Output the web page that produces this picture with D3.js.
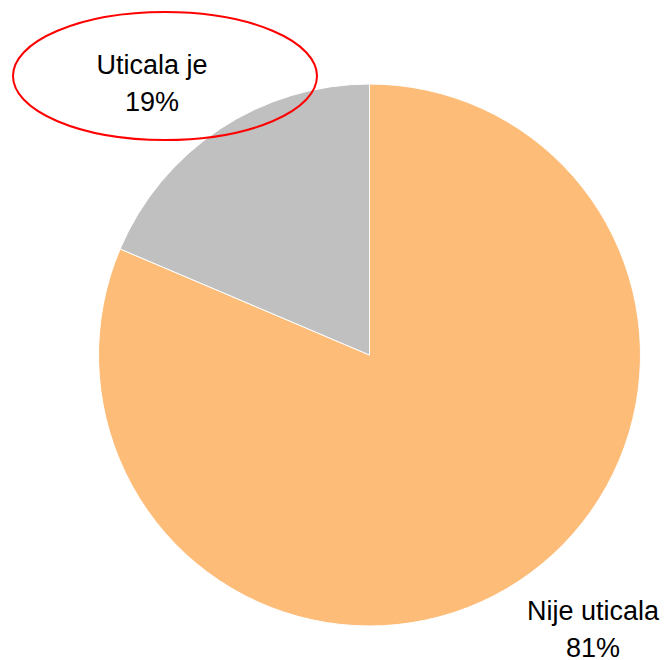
<!DOCTYPE html>
<html>
<head>
<meta charset="utf-8">
<script src="https://cdn.jsdelivr.net/npm/d3@7"></script>
<style>
  html, body { margin: 0; padding: 0; background: #fff; }
  svg { display: block; font-family: "Liberation Sans", Arial, sans-serif; }
</style>
</head>
<body>
<div id="chart"></div>
<script>
// data
const categories = ['Nije uticala', 'Uticala je']
const values = [81.4, 18.6]
const slice_colors = ['#FDBD79', '#C0C0C0']

const width = 665
const height = 660
const cx = 369.5
const cy = 355
const radius = 271
const font_size = 27

const svg = d3.select('#chart')
  .append('svg')
  .attr('width', width)
  .attr('height', height)

const color = d3.scaleOrdinal()
  .domain(categories)
  .range(slice_colors)

const pie = d3.pie()
  .sort(null)
  .value(d => d.value)

const arcs = pie(categories.map((c, i) => ({ name: c, value: values[i] })))
const arc = d3.arc().innerRadius(0).outerRadius(radius)

// Slices
svg.append('g')
  .attr('transform', `translate(${cx},${cy})`)
  .selectAll('path')
  .data(arcs)
  .join('path')
    .attr('d', arc)
    .attr('fill', d => color(d.data.name))
    .attr('stroke', '#fff')
    .attr('stroke-width', 1)

// Labels
const pct = d3.format('.0%')
const label_pos = {
  'Nije uticala': { x: 593, y: 620 },
  'Uticala je': { x: 152, y: 74 }
}

// red ring round the "Uticala je" label
svg.append('ellipse')
  .attr('cx', 165)
  .attr('cy', 76)
  .attr('rx', 152)
  .attr('ry', 64)
  .attr('fill', 'none')
  .attr('stroke', '#FF0000')
  .attr('stroke-width', 2)

const labels = svg.append('g')
  .selectAll('text')
  .data(arcs)
  .join('text')
    .attr('x', d => label_pos[d.data.name].x)
    .attr('y', d => label_pos[d.data.name].y)
    .attr('text-anchor', 'middle')
    .attr('font-size', font_size)
    .attr('fill', '#000')

labels.append('tspan')
  .attr('x', d => label_pos[d.data.name].x)
  .text(d => d.data.name)
labels.append('tspan')
  .attr('x', d => label_pos[d.data.name].x)
  .attr('dy', 37)
  .text(d => pct(Math.round(d.data.value) / 100))
</script>
</body>
</html>
